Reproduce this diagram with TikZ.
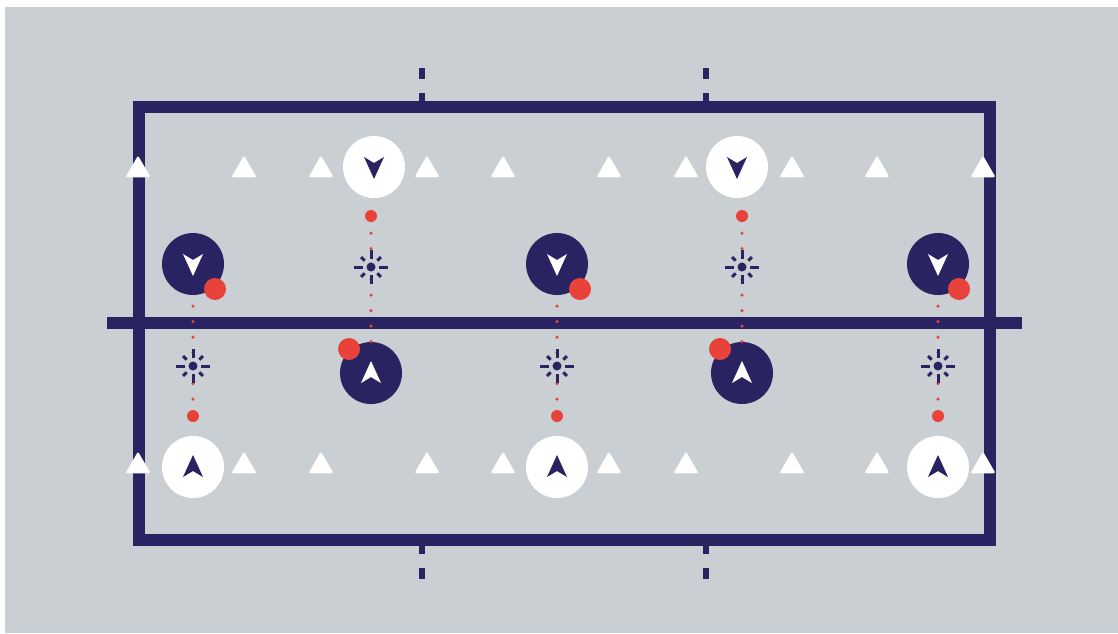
\documentclass[tikz,border=0pt]{standalone}
\usetikzlibrary{shapes.geometric}
\definecolor{pitch}{HTML}{CACFD3}
\definecolor{navy}{HTML}{2A2362}
\definecolor{ballred}{HTML}{E8423A}
\tikzset{
  dart/.pic={\fill (0,-12) -- (10,10) -- (0,4) -- (-10,10) -- cycle;},
  spark/.pic={
    \fill (0,0) circle (4.5pt);
    \draw[line width=3pt] (0,-8) -- (0,-17) (0,8) -- (0,17) (-8,0) -- (-17,0) (8,0) -- (17,0);
    \draw[line width=3pt] (45:9) -- (45:14) (135:9) -- (135:14) (225:9) -- (225:14) (315:9) -- (315:14);
  }
}

\begin{document}
\begin{tikzpicture}[x=1pt, y=-1pt,
  pitchline/.style={navy, line width=12pt},
  halfmark/.style={navy, line width=6pt},
  cone/.style={regular polygon, regular polygon sides=3, fill=white, inner sep=0pt, minimum size=29pt, rounded corners=2pt},
  defender/.style={circle, fill=white, inner sep=0pt, minimum size=62pt},
  attacker/.style={circle, fill=navy, inner sep=0pt, minimum size=62pt},
  ball/.style={circle, fill=ballred, inner sep=0pt, minimum size=22pt},
  target/.style={circle, fill=ballred, inner sep=0pt, minimum size=12pt},
  trail/.style={ballred, line width=3.5pt, line cap=round, dash pattern=on 0pt off 15.5pt, shorten <=11pt}]
  \useasboundingbox (0,0) rectangle (1118,633);
  \fill[pitch] (5,7) rectangle (1118,633);

  % pitch
  \draw[pitchline] (139,107) rectangle (990,540);
  \draw[pitchline] (107,323) -- (1022,323);
  \draw[halfmark] (422,68) -- (422,79) (422,93) -- (422,107);
  \draw[halfmark] (706,68) -- (706,79) (706,93) -- (706,107);
  \draw[halfmark] (422,540) -- (422,554) (422,568) -- (422,579);
  \draw[halfmark] (706,540) -- (706,554) (706,568) -- (706,579);

  % players
  \node[defender] (d1) at (374,167) {};
  \node[defender] (d2) at (737,167) {};
  \node[defender] (d3) at (193,467) {};
  \node[defender] (d4) at (557,467) {};
  \node[defender] (d5) at (938,467) {};
  \node[attacker] (a1) at (193,264) {};
  \node[attacker] (a2) at (557,264) {};
  \node[attacker] (a3) at (938,264) {};
  \node[attacker] (a4) at (371,373) {};
  \node[attacker] (a5) at (742,373) {};

  \node[target] (t1) at (371,216) {};
  \node[target] (t2) at (742,216) {};
  \node[target] (t3) at (193,416) {};
  \node[target] (t4) at (557,416) {};
  \node[target] (t5) at (938,416) {};

  \draw[trail] (t1) -- (a4);
  \draw[trail] (t2) -- (a5);
  \draw[trail] (a1) -- (t3);
  \draw[trail] (a2) -- (t4);
  \draw[trail] (a3) -- (t5);

  \pic[navy] at (371,267) {spark};
  \pic[navy] at (742,267) {spark};
  \pic[navy] at (193,366) {spark};
  \pic[navy] at (557,366) {spark};
  \pic[navy] at (938,366) {spark};

  \pic[navy, rotate=180] at (d1) {dart};
  \pic[navy, rotate=180] at (d2) {dart};
  \pic[navy] at (d3) {dart};
  \pic[navy] at (d4) {dart};
  \pic[navy] at (d5) {dart};
  \pic[white, rotate=180] at (a1) {dart};
  \pic[white, rotate=180] at (a2) {dart};
  \pic[white, rotate=180] at (a3) {dart};
  \pic[white] at (a4) {dart};
  \pic[white] at (a5) {dart};

  \node[ball] (b1) at (215,289) {};
  \node[ball] (b2) at (580,289) {};
  \node[ball] (b3) at (959,289) {};
  \node[ball] (b4) at (349,349) {};
  \node[ball] (b5) at (720,349) {};

  % cones
  \node[cone] (c1) at (138,170) {};
  \node[cone] (c2) at (244,170) {};
  \node[cone] (c3) at (321,170) {};
  \node[cone] (c4) at (427,170) {};
  \node[cone] (c5) at (503,170) {};
  \node[cone] (c6) at (609,170) {};
  \node[cone] (c7) at (686,170) {};
  \node[cone] (c8) at (792,170) {};
  \node[cone] (c9) at (877,170) {};
  \node[cone] (c10) at (983,170) {};
  \node[cone] (c11) at (138,466) {};
  \node[cone] (c12) at (244,466) {};
  \node[cone] (c13) at (321,466) {};
  \node[cone] (c14) at (427,466) {};
  \node[cone] (c15) at (503,466) {};
  \node[cone] (c16) at (609,466) {};
  \node[cone] (c17) at (686,466) {};
  \node[cone] (c18) at (792,466) {};
  \node[cone] (c19) at (877,466) {};
  \node[cone] (c20) at (983,466) {};
\end{tikzpicture}
\end{document}
